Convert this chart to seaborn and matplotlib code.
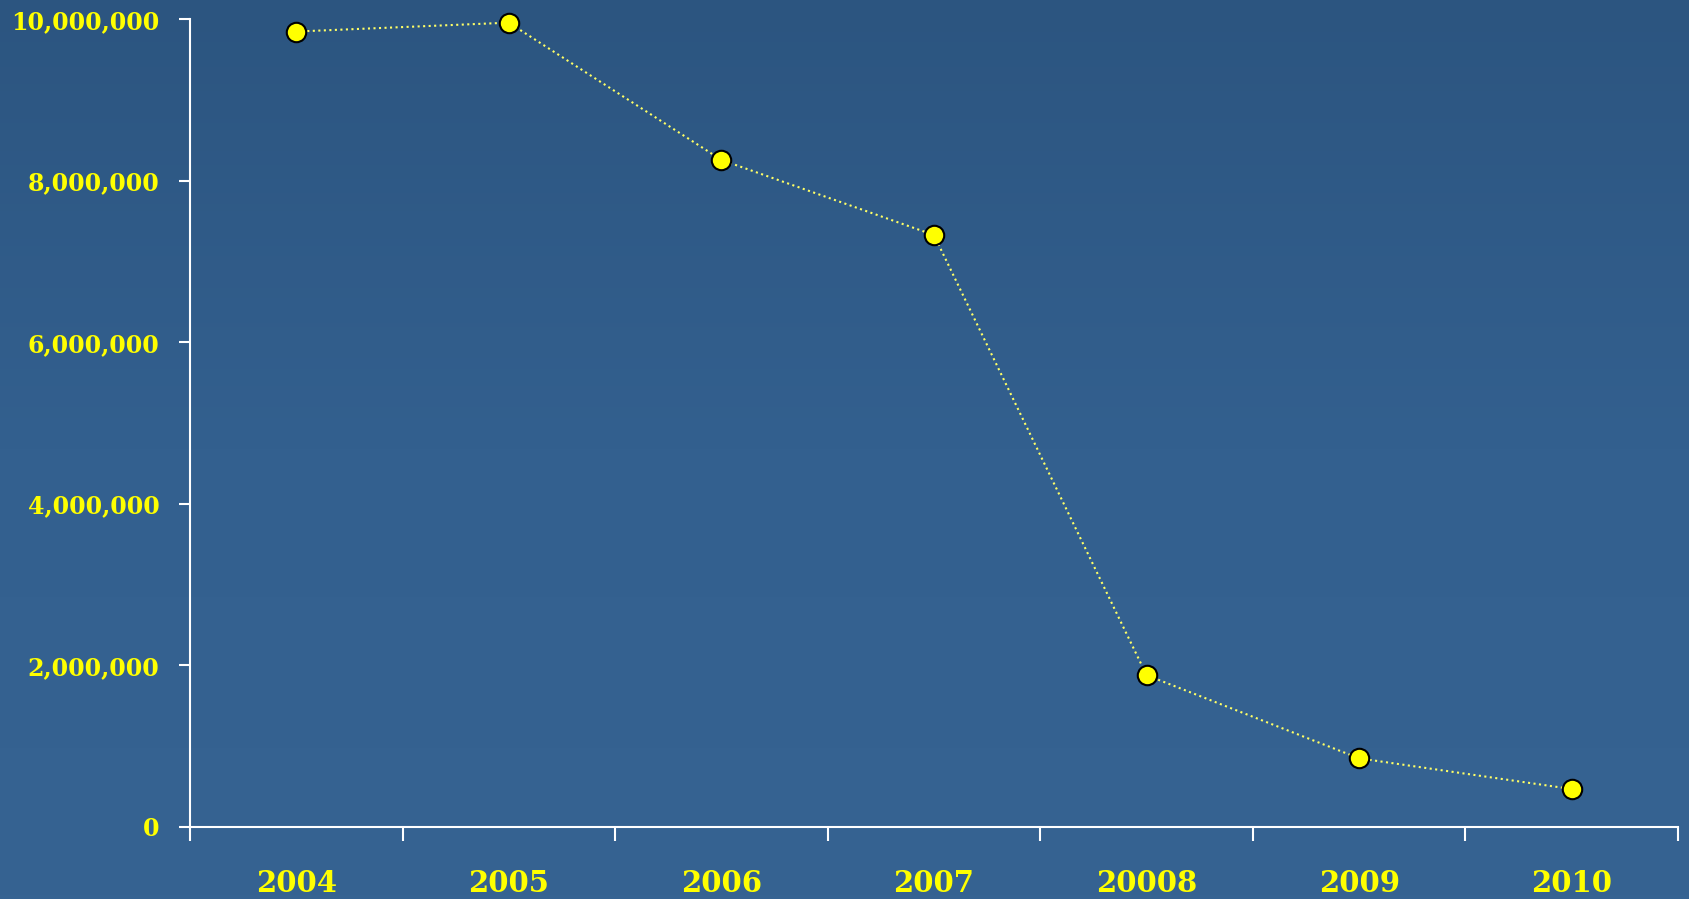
import numpy as np
import pandas as pd
import matplotlib
matplotlib.use("Agg")
import matplotlib.pyplot as plt
from matplotlib.colors import LinearSegmentedColormap
from matplotlib.ticker import FuncFormatter
import seaborn as sns

years = ["2004", "2005", "2006", "2007", "20008", "2009", "2010"]
values = [9850000, 9960000, 8260000, 7330000, 1880000, 850000, 470000]
y_ticks = [0, 2000000, 4000000, 6000000, 8000000, 10000000]

sns.set_theme(style="white")
plt.rcParams['font.family'] = ['DejaVu Serif']

fig = plt.figure(figsize=(16.9, 8.99), dpi=100)

# background gradient
bg = fig.add_axes([0, 0, 1, 1], zorder=0)
cmap = LinearSegmentedColormap.from_list("bg", ["#2c5580", "#33608f", "#366392"])
grad = np.linspace(0, 1, 256).reshape(-1, 1)
bg.imshow(grad, aspect="auto", cmap=cmap, extent=[0, 1, 0, 1], origin="upper")
bg.set_axis_off()

ax = fig.add_axes([0.1124, 0.0801, 0.9929 - 0.1124, 0.9784 - 0.0801], zorder=1)
ax.patch.set_alpha(0)

df = pd.DataFrame({"pos": np.arange(len(years)), "value": values})
sns.lineplot(data=df, x="pos", y="value", ax=ax, color="#ffff66",
             linestyle=":", linewidth=1.5, marker="o", markersize=14,
             markerfacecolor="#ffff00", markeredgecolor="black",
             markeredgewidth=1.5, clip_on=False, zorder=3)

ax.set_xlim(-0.5, len(years) - 0.5)
ax.set_ylim(0, 10000000)
ax.set_xticks(np.arange(-0.5, len(years), 1.0))
ax.set_xticklabels([])
ax.set_xticks(np.arange(len(years)), minor=True)
ax.set_xticklabels(years, minor=True)
ax.set_yticks(y_ticks)
ax.yaxis.set_major_formatter(FuncFormatter(lambda v, p: f"{int(v):,}"))

for s in ["top", "right"]:
    ax.spines[s].set_visible(False)
for s in ["left", "bottom"]:
    ax.spines[s].set_color("white")
    ax.spines[s].set_linewidth(1.5)

ax.tick_params(axis="x", which="major", length=10, width=1.5, color="white",
               direction="out", bottom=True)
ax.tick_params(axis="x", which="minor", length=0, pad=30, labelsize=21,
               labelcolor="#ffff00")
ax.tick_params(axis="y", which="major", length=8, width=1.5, color="white",
               direction="out", left=True, pad=14, labelsize=17,
               labelcolor="#ffff00")
for lbl in ax.get_xticklabels(minor=True) + ax.get_yticklabels():
    lbl.set_fontweight("heavy")

ax.set_xlabel("")
ax.set_ylabel("")

fig.savefig("out.png", dpi=100)
